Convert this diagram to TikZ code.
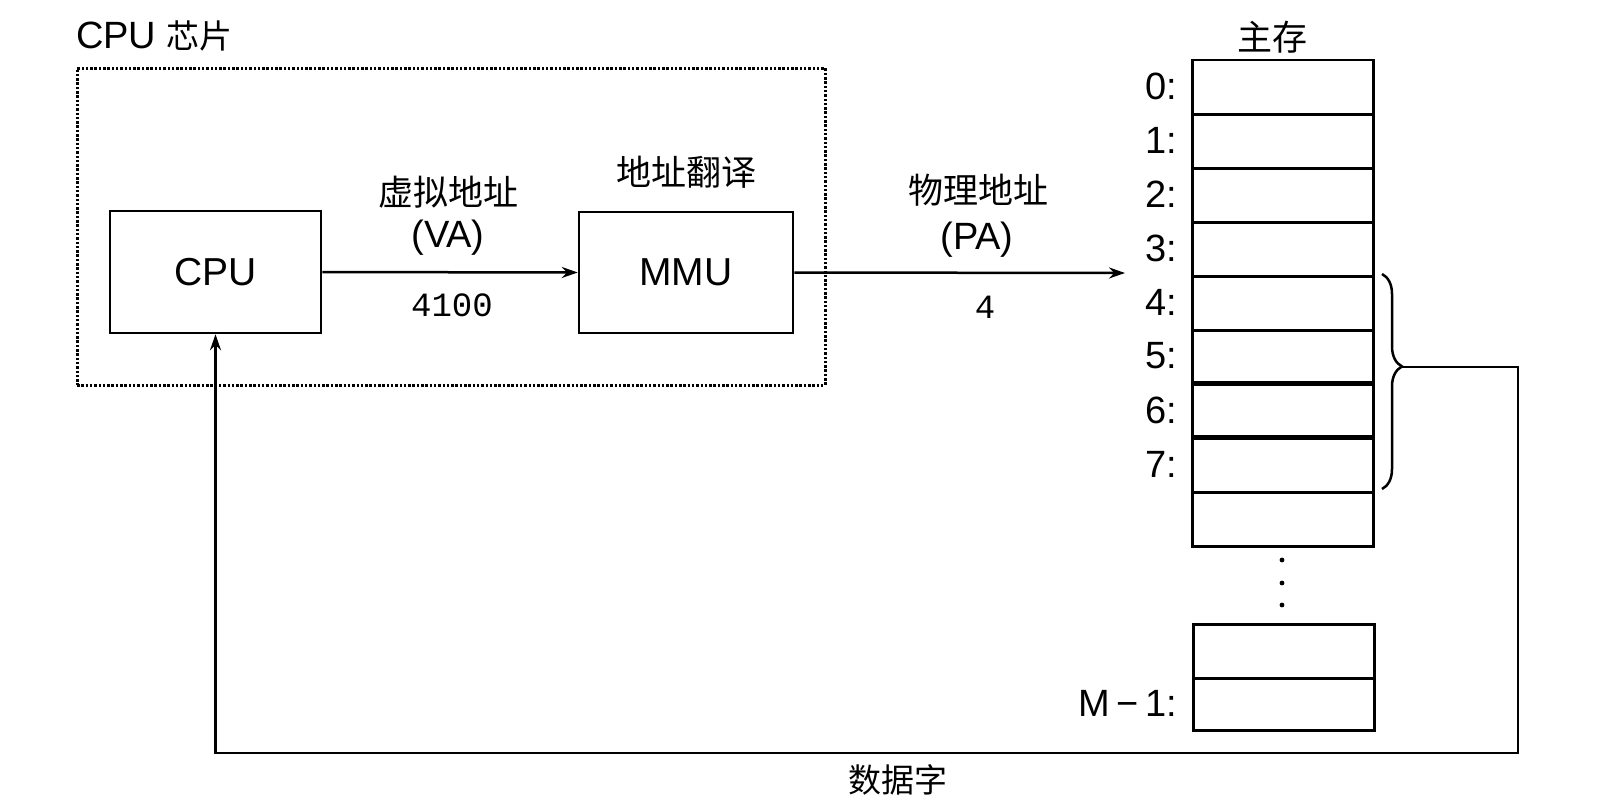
\documentclass[tikz,border=0pt]{standalone}
\usepackage{fontspec}
\setmainfont{Liberation Sans}
\newfontfamily\cjk{Noto Sans CJK SC}
\newfontfamily\monofnt{Liberation Mono}
\usetikzlibrary{arrows.meta,decorations.pathreplacing}
\begin{document}
\begin{tikzpicture}[x=1pt,y=-1pt,
  lat/.style={font=\fontsize{38}{40}\selectfont,inner sep=0pt},
  cj/.style={font=\fontsize{35}{38}\selectfont\cjk,inner sep=0pt},
  mn/.style={font=\fontsize{34}{36}\selectfont\monofnt,inner sep=0pt},
  unitbox/.style={draw,line width=2.5pt,inner sep=0pt,font=\fontsize{39}{40}\selectfont},
  cell/.style={draw,line width=2.5pt,minimum width=181pt,minimum height=54pt,inner sep=0pt,anchor=north west},
  conn/.style={line width=2.5pt,-{Stealth[length=16pt,width=11pt]}},
  chipbox/.style={draw,line width=3pt,dash pattern=on 2.5pt off 1.8pt,inner sep=0pt}
]
\useasboundingbox (0,0) rectangle (1602,800);

% CPU chip
\node[chipbox,minimum width=748pt,minimum height=317pt] (chip) at (451,226.5) {};
\node[lat,anchor=west] (chiplabel) at (76,36) {CPU \cjk\fontsize{33}{36}\selectfont 芯片};

\node[unitbox,minimum width=211pt,minimum height=122pt] (cpu) at (215.5,272) {CPU};
\node[unitbox,minimum width=214pt,minimum height=121pt] (mmu) at (686,272.5) {MMU};
\node[cj] (mmulabel) at (686,172) {地址翻译};

% VA arrow
\draw[conn] (cpu.east) -- (mmu.west);
\node[cj] (vatext) at (448,192) {虚拟地址};
\node[lat] (va) at (448,238) {(VA)};
\node[mn] (vanum) at (452,305) {4100};

% memory
\node[cj] (memlabel) at (1272,37) {主存};
\foreach \k in {0,...,8} {
  \node[cell] (m\k) at (1191,{59+54*\k}) {};
}
\foreach \k in {0,...,7} {
  \node[lat,anchor=east] (l\k) at (1177,{86+54*\k}) {\k:};
}
\draw[line width=3.5pt] (m6.north west) -- (m6.north east);
\draw[line width=3.5pt] (m7.north west) -- (m7.north east);
\node[cell,minimum height=54pt] (mA) at (1192,623) {};
\node[cell,minimum height=52pt] (mB) at (1192,677) {};
\node[lat,anchor=east] (lM) at (1177,703) {M\,−\,1:};
\foreach \yy [count=\i] in {560,583,605} {
  \fill (1282,\yy) circle (2.4pt) coordinate (dot\i);
}

% PA arrow
\coordinate (pa) at (1125,273);
\draw[conn] (mmu.east) -- (pa);
\node[cj] (patext) at (978,190) {物理地址};
\node[lat] (pav) at (977,240) {(PA)};
\node[mn] (panum) at (985,307) {4};

% brace and data word
\draw[line width=2.5pt,decorate,decoration={brace,amplitude=20pt,aspect=0.43}]
  (1382,274) -- (1382,489);
\coordinate (bt) at (1402,367);
\coordinate (fb1) at (1518,753);
\draw[conn] (bt) -| (fb1) -| (cpu.south);
\node[cj,font=\fontsize{33}{36}\selectfont\cjk] (dataword) at (898,780) {数据字};
\end{tikzpicture}
\end{document}
